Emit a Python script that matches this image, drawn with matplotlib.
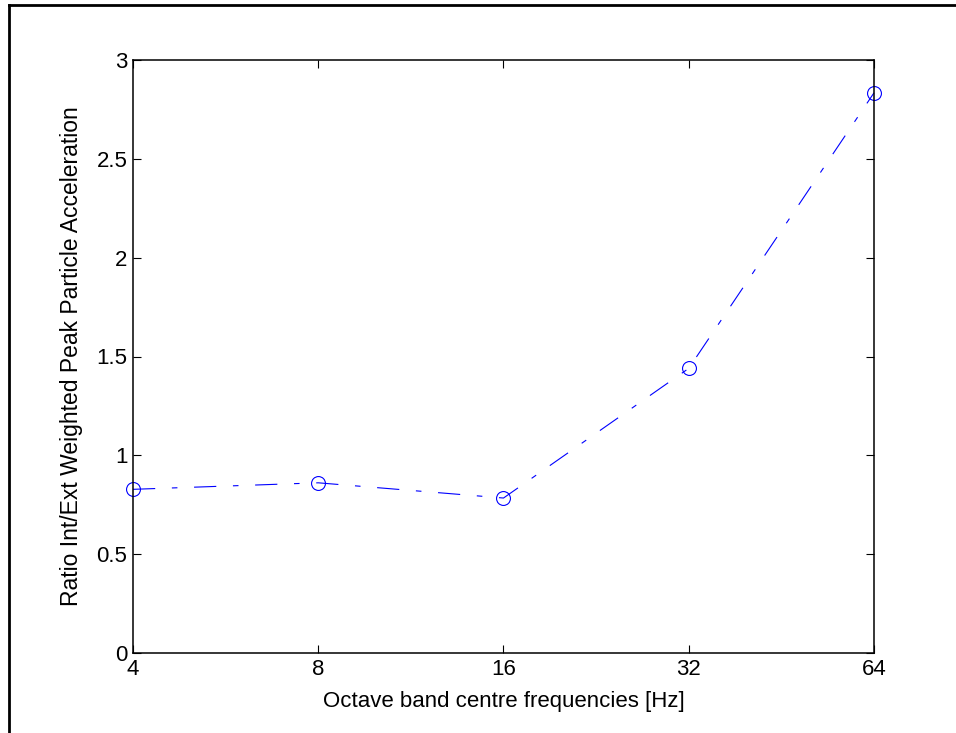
import matplotlib
matplotlib.use("Agg")
import matplotlib.pyplot as plt
from matplotlib.lines import Line2D
from matplotlib.ticker import FixedLocator, FormatStrFormatter, NullLocator

plt.rcParams["font.family"] = ["Liberation Sans", "DejaVu Sans"]

freqs = [4, 8, 16, 32, 64]
ratio = [0.828, 0.861, 0.784, 1.44, 2.834]
x_ticks = [4, 8, 16, 32, 64]
y_ticks = [0, 0.5, 1, 1.5, 2, 2.5, 3]

W, H = 956, 733
fig = plt.figure(figsize=(W / 100, H / 100), dpi=100)
ax = fig.add_axes([133 / W, 1 - 653 / H, (874 - 133) / W, (653 - 60) / H])

ax.plot(freqs, ratio, linestyle=(0, (20, 15, 5, 15)), color="#0000ff", linewidth=0.8,
        marker="o", markersize=10, markerfacecolor="none",
        markeredgecolor="#0000ff", markeredgewidth=0.8, clip_on=False)

ax.set_xscale("log", base=2)
ax.set_xlim(4, 64)
ax.set_ylim(0, 3)
ax.xaxis.set_major_locator(FixedLocator(x_ticks))
ax.xaxis.set_minor_locator(NullLocator())
ax.xaxis.set_major_formatter(FormatStrFormatter("%g"))
ax.yaxis.set_major_locator(FixedLocator(y_ticks))
ax.yaxis.set_major_formatter(FormatStrFormatter("%g"))

ax.tick_params(direction="in", length=6, width=0.8, top=True, right=True,
               labelsize=16, pad=4)
for s in ax.spines.values():
    s.set_linewidth(1.1)

ax.set_xlabel("Octave band centre frequencies [Hz]", fontsize=16, labelpad=8)
ax.set_ylabel("Ratio Int/Ext Weighted Peak Particle Acceleration", fontsize=16.5, labelpad=10)

# outer frame (left and top edges)
fig.add_artist(Line2D([8.5 / W, 8.5 / W], [0, 1 - 4.5 / H], transform=fig.transFigure,
                      color="black", linewidth=2))
fig.add_artist(Line2D([8.5 / W, 1], [1 - 4.5 / H, 1 - 4.5 / H], transform=fig.transFigure,
                      color="black", linewidth=2))

fig.savefig("out.png", dpi=100)
